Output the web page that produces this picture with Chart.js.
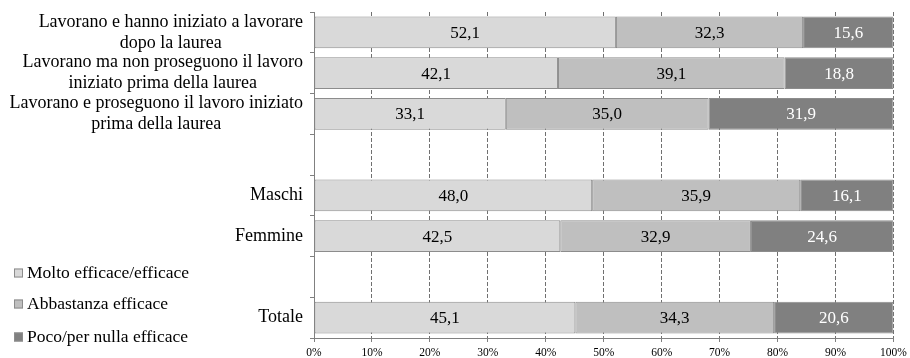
<!DOCTYPE html>
<html lang="it">
<head>
    <meta charset="UTF-8">
    <title>Efficacia della laurea</title>
    <script src="https://cdn.jsdelivr.net/npm/chart.js"></script>
    <style>
        body { margin: 0; background: #fff; }
        #wrap { width: 910px; height: 358px; }
    </style>
</head>
<body>
    <div id="wrap"><canvas id="efficaciaChart"></canvas></div>

    <script>
        // righe del grafico (le stringhe vuote sono righe di separazione)
        const categories = [
            ['Lavorano e hanno iniziato a lavorare', 'dopo la laurea'],
            ['Lavorano ma non proseguono il lavoro', 'iniziato prima della laurea'],
            ['Lavorano e proseguono il lavoro iniziato', 'prima della laurea'],
            '',
            'Maschi',
            'Femmine',
            '',
            'Totale'
        ];
        const molto = [52.1, 42.1, 33.1, null, 48.0, 42.5, null, 45.1];
        const abbastanza = [32.3, 39.1, 35.0, null, 35.9, 32.9, null, 34.3];
        const poco = [15.6, 18.8, 31.9, null, 16.1, 24.6, null, 20.6];
        const seriesNames = ['Molto efficace/efficace', 'Abbastanza efficace', 'Poco/per nulla efficace'];
        const xTicks = [0, 10, 20, 30, 40, 50, 60, 70, 80, 90, 100];

        const serif = '"Liberation Serif", "Times New Roman", serif';
        const fills = ['#d9d9d9', '#bfbfbf', '#808080'];
        const valueColors = ['#000000', '#000000', '#ffffff'];

        // etichette delle righe: blocco allineato a destra, righe centrate tra loro
        const rowLabels = {
            id: 'rowLabels',
            afterDraw(chart) {
                const ctx = chart.ctx;
                const scale = chart.scales.y;
                const right = 303;
                ctx.save();
                ctx.font = '18px ' + serif;
                ctx.fillStyle = '#000';
                ctx.textAlign = 'center';
                ctx.textBaseline = 'middle';
                chart.data.labels.forEach((lab, i) => {
                    const lines = Array.isArray(lab) ? lab : [lab];
                    if (!lines[0]) return;
                    const w = Math.max(...lines.map(l => ctx.measureText(l).width));
                    const cx = right - w / 2;
                    const cy = scale.getPixelForValue(i);
                    const lh = 21;
                    const y0 = cy - (lines.length - 1) * lh / 2;
                    lines.forEach((l, k) => ctx.fillText(l, cx, y0 + k * lh));
                });
                ctx.restore();
            }
        };

        // valori al centro di ogni segmento
        const valueLabels = {
            id: 'valueLabels',
            afterDatasetsDraw(chart) {
                const ctx = chart.ctx;
                ctx.save();
                ctx.font = '17px ' + serif;
                ctx.textAlign = 'center';
                ctx.textBaseline = 'middle';
                chart.data.datasets.forEach((ds, d) => {
                    const meta = chart.getDatasetMeta(d);
                    ctx.fillStyle = valueColors[d];
                    meta.data.forEach((bar, i) => {
                        const v = ds.data[i];
                        if (v === null) return;
                        const p = bar.getProps(['x', 'y', 'base'], true);
                        ctx.fillText(v.toFixed(1).replace('.', ','), (p.x + p.base) / 2, p.y + 1);
                    });
                });
                ctx.restore();
            }
        };

        // legenda in basso a sinistra
        const sideLegend = {
            id: 'sideLegend',
            afterDraw(chart) {
                const ctx = chart.ctx;
                const rows = [273, 304, 337];
                ctx.save();
                ctx.font = '17.5px ' + serif;
                ctx.textBaseline = 'middle';
                ctx.textAlign = 'left';
                chart.data.datasets.forEach((ds, d) => {
                    const y = rows[d];
                    ctx.fillStyle = ds.backgroundColor;
                    ctx.fillRect(14, y - 4.5, 9, 9);
                    ctx.strokeStyle = '#8c8c8c';
                    ctx.lineWidth = 1;
                    ctx.strokeRect(14.5, y - 4, 8, 8);
                    ctx.fillStyle = '#000';
                    ctx.fillText(ds.label, 27, y);
                });
                ctx.restore();
            }
        };

        const makeSet = (label, data, i) => ({
            label: label,
            data: data,
            backgroundColor: fills[i],
            borderColor: '#8c8c8c',
            borderWidth: 1,
            borderSkipped: false,
            categoryPercentage: 1,
            barPercentage: 0.78
        });

        new Chart(document.getElementById('efficaciaChart').getContext('2d'), {
            type: 'bar',
            data: {
                labels: categories,
                datasets: [
                    makeSet(seriesNames[0], molto, 0),
                    makeSet(seriesNames[1], abbastanza, 1),
                    makeSet(seriesNames[2], poco, 2)
                ]
            },
            options: {
                indexAxis: 'y',
                responsive: true,
                maintainAspectRatio: false,
                animation: false,
                layout: { padding: { top: 12, right: 16.5, left: 0, bottom: 0 } },
                plugins: {
                    legend: { display: false },
                    tooltip: { enabled: false }
                },
                scales: {
                    x: {
                        stacked: true,
                        min: 0,
                        max: 100,
                        afterBuildTicks: (scale) => { scale.ticks = xTicks.map(v => ({ value: v })); },
                        afterFit: (scale) => {
                            scale.height = 20;
                            scale.paddingLeft = 0;
                            scale.paddingRight = 0;
                        },
                        ticks: {
                            callback: (v) => v + '%',
                            font: { family: serif, size: 11.5 },
                            color: '#000',
                            padding: 4,
                            maxRotation: 0
                        },
                        grid: {
                            color: '#707070',
                            lineWidth: 1,
                            tickLength: 4,
                            tickColor: '#808080',
                            tickBorderDash: []
                        },
                        border: { display: true, color: '#808080', width: 1, dash: [4, 2] }
                    },
                    y: {
                        stacked: true,
                        afterFit: (scale) => { scale.width = 314; },
                        ticks: { display: false },
                        grid: {
                            offset: true,
                            drawOnChartArea: false,
                            tickLength: 4,
                            color: '#808080'
                        },
                        border: { display: true, color: '#808080', width: 1 }
                    }
                }
            },
            plugins: [rowLabels, valueLabels, sideLegend]
        });
    </script>
</body>
</html>
